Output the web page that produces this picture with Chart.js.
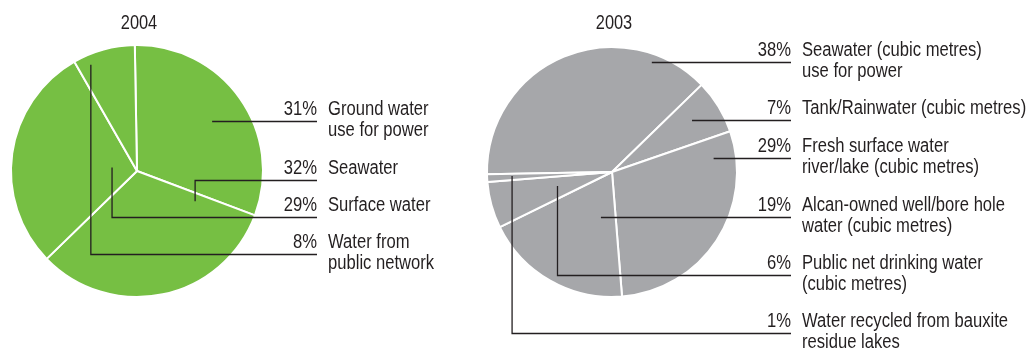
<!DOCTYPE html>
<html>
<head>
<meta charset="utf-8">
<script src="https://cdn.jsdelivr.net/npm/chart.js@4.4.1/dist/chart.umd.min.js"></script>
<style>
    html, body { margin: 0; padding: 0; background: #fff; }
    .wrap { position: relative; width: 1031px; height: 351px; }
    .wrap canvas { position: absolute; left: 0; top: 0; }
</style>
</head>
<body>
<div class="wrap">
    <canvas id="pie2004" width="1031" height="351"></canvas>
    <canvas id="pie2003" width="1031" height="351"></canvas>
</div>
<script>
// 2004 water sources
const labels2004 = [
    ["Ground water", "use for power"],
    ["Seawater"],
    ["Surface water"],
    ["Water from", "public network"]
];
const values2004 = [31, 32, 29, 8];

// 2003 water sources
const labels2003 = [
    ["Seawater (cubic metres)", "use for power"],
    ["Tank/Rainwater (cubic metres)"],
    ["Fresh surface water", "river/lake (cubic metres)"],
    ["Alcan-owned well/bore hole", "water (cubic metres)"],
    ["Public net drinking water", "(cubic metres)"],
    ["Water recycled from bauxite", "residue lakes"]
];
const values2003 = [38, 7, 29, 19, 6, 1];

const FONT = "20px 'Liberation Sans', Arial, sans-serif";
const TITLE_FONT = "21px 'Liberation Sans', Arial, sans-serif";
const INK = "#231f20";

// no narrow face installed, so squeeze the text horizontally
function narrowText(ctx, text, x, y, align, squeeze) {
    ctx.save();
    ctx.translate(x, y);
    ctx.scale(squeeze, 1);
    ctx.textAlign = align;
    ctx.fillText(text, 0, 0);
    ctx.restore();
}

// leader lines + labels, anchored on the arc elements
const callouts = {
    id: "callouts",
    afterDraw(chart, args, opts) {
        const ctx = chart.ctx;
        const meta = chart.getDatasetMeta(0);
        const data = chart.data.datasets[0].data;
        const names = chart.data.labels;
        ctx.save();
        ctx.fillStyle = INK;
        ctx.strokeStyle = INK;
        ctx.lineWidth = 1.3;
        ctx.textBaseline = "alphabetic";

        ctx.font = TITLE_FONT;
        narrowText(ctx, opts.title, meta.data[0].x + 2, 29, "center", 0.78);

        ctx.font = FONT;
        opts.leaders.forEach((l, i) => {
            const arc = meta.data[i];
            const a = arc.startAngle + l.frac * (arc.endAngle - arc.startAngle);
            const px = arc.x + Math.cos(a) * l.r * arc.outerRadius;
            const py = arc.y + Math.sin(a) * l.r * arc.outerRadius;
            const ly = l.y + 0.5;
            ctx.beginPath();
            if (l.elbow) {
                ctx.moveTo(px, py);
                ctx.lineTo(px, ly);
            } else {
                ctx.moveTo(px, ly);
            }
            ctx.lineTo(opts.lineEnd, ly);
            ctx.stroke();

            narrowText(ctx, data[i] + "%", opts.lineEnd, l.y - 6, "right", 0.83);
            names[i].forEach((t, k) => narrowText(ctx, t, opts.lineEnd + 11, l.y - 6 + k * 21, "left", 0.83));
        });
        ctx.restore();
    }
};

function makePie(id, labels, values, color, rotation, padding, extra) {
    return new Chart(document.getElementById(id), {
        type: "pie",
        data: {
            labels: labels,
            datasets: [{
                data: values,
                backgroundColor: color,
                borderColor: "#ffffff",
                borderWidth: 2
            }]
        },
        options: {
            responsive: false,
            animation: false,
            rotation: rotation,
            layout: { padding: padding },
            plugins: {
                legend: { display: false },
                tooltip: { enabled: false },
                callouts: extra
            }
        },
        plugins: [callouts]
    });
}

makePie("pie2004", labels2004, values2004, "#76bf43", -1,
    { left: 10, top: 44, right: 767, bottom: 53 },
    {
        title: "2004",
        lineEnd: 317,
        leaders: [
            { frac: 0.51, r: 0.72, y: 121, elbow: false },
            { frac: 0.06, r: 0.52, y: 180, elbow: true },
            { frac: 0.50, r: 0.20, y: 217, elbow: true },
            { frac: 0.22, r: 0.92, y: 254, elbow: true }
        ]
    });

makePie("pie2003", labels2003, values2003, "#a6a7aa", 269,
    { left: 486, top: 46, right: 293, bottom: 53 },
    {
        title: "2003",
        lineEnd: 791,
        leaders: [
            { frac: 0.81, r: 0.94, y: 62, elbow: false },
            { frac: 0.46, r: 0.76, y: 120, elbow: false },
            { frac: 0.11, r: 0.82, y: 158, elbow: false },
            { frac: 0.27, r: 0.37, y: 217, elbow: false },
            { frac: 0.55, r: 0.45, y: 275, elbow: true },
            { frac: 0.64, r: 0.80, y: 333, elbow: true }
        ]
    });
</script>
</body>
</html>
